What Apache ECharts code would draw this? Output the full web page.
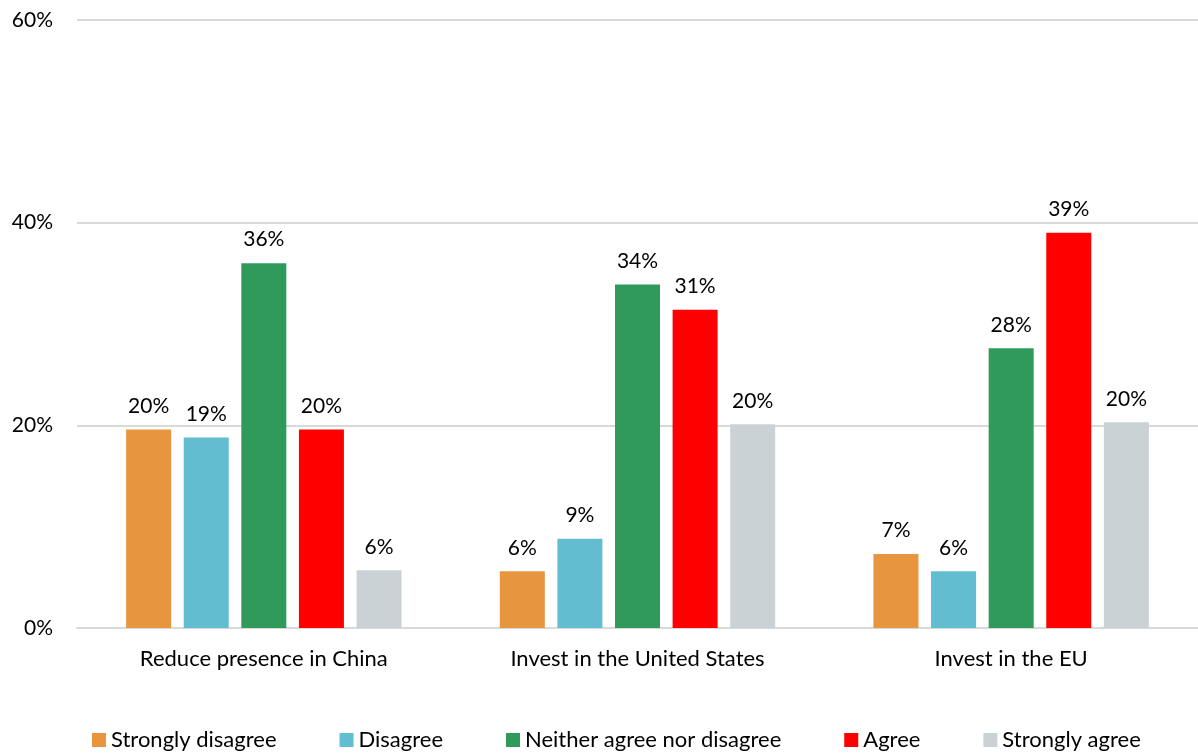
<!DOCTYPE html>
<html><head><meta charset="utf-8">
<script src="https://cdn.jsdelivr.net/npm/echarts@6/dist/echarts.min.js"></script>
<style>html,body{margin:0;padding:0;background:#fff}#c{width:1198px;height:753px}</style>
</head><body><div id="c"></div>
<script>
const categories = ['Reduce presence in China', 'Invest in the United States', 'Invest in the EU'];
const seriesNames = ['Strongly disagree', 'Disagree', 'Neither agree nor disagree', 'Agree', 'Strongly agree'];
const stronglyDisagree = [19.6, 5.6, 7.3];
const disagree = [18.8, 8.8, 5.6];
const neither = [36.0, 33.9, 27.6];
const agree = [19.6, 31.4, 39.0];
const stronglyAgree = [5.7, 20.1, 20.3];
const yTicks = [0, 20, 40, 60];
const colors = ['#E8953F', '#63BDD0', '#2F9A5A', '#FF0000', '#CAD2D6'];
const values = [stronglyDisagree, disagree, neither, agree, stronglyAgree];
const FONT = 'Lato';
const chart = echarts.init(document.getElementById('c'));
chart.setOption({
  animation: false,
  textStyle: {fontFamily: FONT},
  grid: {left: 77, right: 0, top: 20, bottom: 125, containLabel: false},
  legend: {
    top: 724, left: 87, itemWidth: 14, itemHeight: 14, itemGap: 63,
    icon: 'rect',
    textStyle: {fontFamily: FONT, fontSize: 22, color: '#000'},
    data: seriesNames
  },
  xAxis: {
    type: 'category', data: categories,
    axisLine: {lineStyle: {color: '#D9D9D9', width: 2}},
    axisTick: {show: false},
    axisLabel: {fontFamily: FONT, fontSize: 22, color: '#000', margin: 20}
  },
  yAxis: {
    type: 'value', min: yTicks[0], max: yTicks[yTicks.length - 1], interval: 20,
    axisLine: {show: false}, axisTick: {show: false},
    splitLine: {lineStyle: {color: '#D9D9D9', width: 2}},
    axisLabel: {fontFamily: FONT, fontSize: 21, color: '#000', margin: 24, formatter: v => v + '%'}
  },
  series: seriesNames.map((n, i) => ({
    name: n, type: 'bar', data: values[i],
    barWidth: 45, barGap: '28%',
    itemStyle: {color: colors[i]},
    label: {show: true, position: 'top', distance: 13, fontFamily: FONT, fontSize: 21, color: '#000',
      formatter: p => Math.round(p.value) + '%'}
  }))
});
</script></body></html>
